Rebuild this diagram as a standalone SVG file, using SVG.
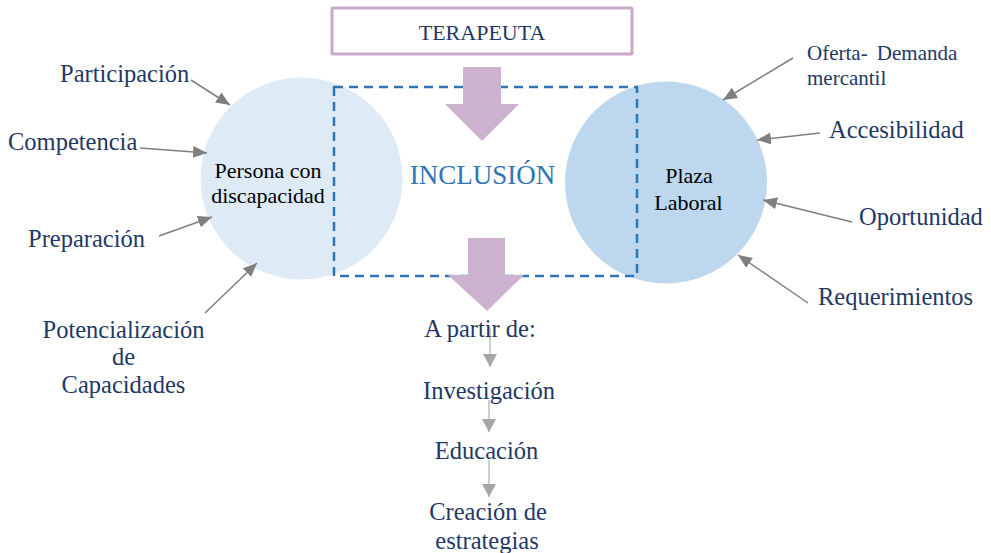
<svg xmlns="http://www.w3.org/2000/svg" width="991" height="553" viewBox="0 0 991 553">
<defs>
<style>
text{font-family:'Liberation Serif','DejaVu Serif',serif}
.lbl{fill:#1f3864;font-size:24.5px}
.sm{font-size:21px}
.inner{fill:#000;font-size:22px;text-anchor:middle}
.conn{stroke:#7f7f7f;stroke-width:1.5;fill:none;marker-end:url(#ah)}
.conn2{stroke:#bfbfbf;stroke-width:1.5;fill:none;marker-end:url(#ah2)}
.big{fill:#cdb2cf}
</style>
<marker id="ah" markerUnits="userSpaceOnUse" markerWidth="14" markerHeight="12" refX="14" refY="6" orient="auto" viewBox="0 0 14 12">
<path d="M0,0 L14,6 L0,12 z" fill="#7f7f7f"/>
</marker>
<marker id="ah2" markerUnits="userSpaceOnUse" markerWidth="16" markerHeight="14" refX="13" refY="7" orient="auto" viewBox="0 0 13 14">
<path d="M0,0 L13,7 L0,14 z" fill="#a6a6a6"/>
</marker>
</defs>
<rect width="991" height="553" fill="#fff"/>

<g id="terapeuta">
<rect x="332" y="8" width="300" height="46" fill="#fff" stroke="#c9a9ca" stroke-width="3" rx="1"/>
<text x="482" y="40" text-anchor="middle" font-size="22" fill="#1f3864">TERAPEUTA</text>
</g>

<g id="persona">
<circle cx="301.5" cy="178.5" r="101" fill="#deebf7"/>
<text class="inner" x="268" y="178">Persona con</text>
<text class="inner" x="268" y="203">discapacidad</text>
</g>

<g id="plaza">
<circle cx="666" cy="182.5" r="101" fill="#bdd7ee"/>
<text class="inner" x="689" y="183">Plaza</text>
<text class="inner" x="688.5" y="210">Laboral</text>
</g>

<g id="inclusion">
<rect x="334" y="87" width="303" height="189" fill="none" stroke="#2e75b6" stroke-width="2.5" stroke-dasharray="9,6"/>
<text x="482.5" y="184" text-anchor="middle" font-size="27" fill="#2e75b6">INCLUSIÓN</text>
</g>

<g id="arrow-top">
<path class="big" d="M463,67 L501,67 L501,104 L519,104 L482,141 L445,104 L463,104 z"/>
</g>
<g id="arrow-bottom">
<path class="big" d="M468,238 L505,238 L505,275 L524,275 L487,311 L448,275 L468,275 z"/>
</g>

<g id="connectors">
<line class="conn" x1="191" y1="80" x2="230" y2="105"/>
<line class="conn" x1="140" y1="148" x2="207" y2="153"/>
<line class="conn" x1="159" y1="236" x2="212" y2="217"/>
<line class="conn" x1="205" y1="313" x2="257" y2="263"/>
<line class="conn" x1="793" y1="58" x2="723" y2="100"/>
<line class="conn" x1="820" y1="133" x2="757" y2="140"/>
<line class="conn" x1="852" y1="222" x2="763" y2="200"/>
<line class="conn" x1="808" y1="303" x2="738" y2="255"/>
<line class="conn2" x1="490" y1="327" x2="490" y2="367"/>
<line class="conn2" x1="489" y1="400" x2="489" y2="432"/>
<line class="conn2" x1="489" y1="460" x2="489" y2="497"/>
</g>

<g id="labels-left">
<text class="lbl" x="60" y="82">Participación</text>
<text class="lbl" x="8" y="150">Competencia</text>
<text class="lbl" x="28" y="247">Preparación</text>
<text class="lbl" x="123.5" y="338" text-anchor="middle">Potencialización</text>
<text class="lbl" x="123.5" y="365" text-anchor="middle">de</text>
<text class="lbl" x="123.5" y="393" text-anchor="middle">Capacidades</text>
</g>

<g id="labels-right">
<text class="lbl sm" x="807" y="60" word-spacing="4">Oferta- Demanda</text>
<text class="lbl sm" x="807" y="85">mercantil</text>
<text class="lbl" x="829" y="138">Accesibilidad</text>
<text class="lbl" x="859" y="225">Oportunidad</text>
<text class="lbl" x="818" y="305">Requerimientos</text>
</g>

<g id="labels-bottom">
<text class="lbl" x="480" y="337" text-anchor="middle">A partir de:</text>
<text class="lbl" x="489" y="399" text-anchor="middle">Investigación</text>
<text class="lbl" x="486.5" y="459" text-anchor="middle">Educación</text>
<text class="lbl" x="488" y="520" text-anchor="middle">Creación de</text>
<text class="lbl" x="487" y="549" text-anchor="middle">estrategias</text>
</g>
</svg>
